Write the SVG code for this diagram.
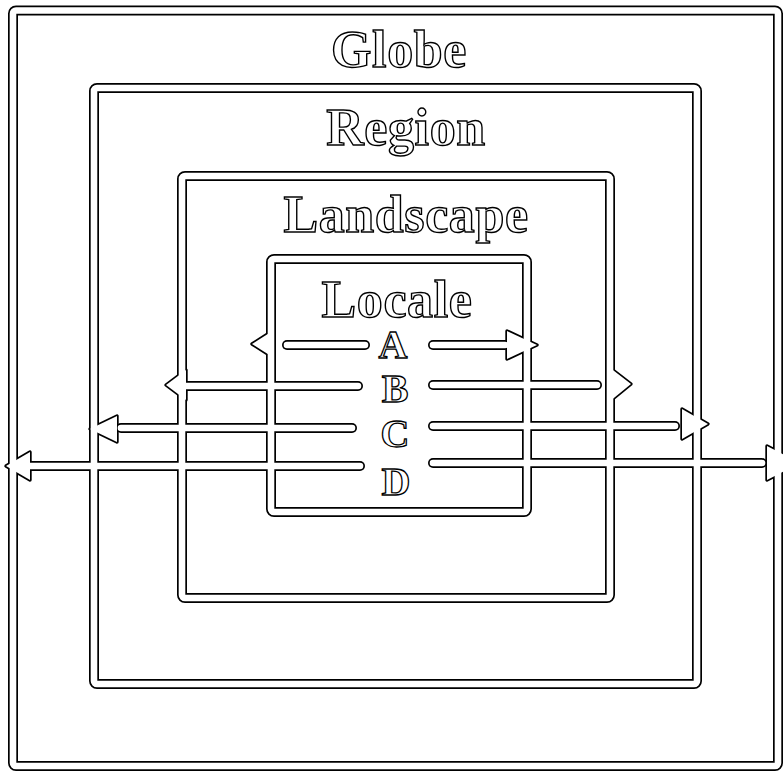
<svg xmlns="http://www.w3.org/2000/svg" xmlns:xlink="http://www.w3.org/1999/xlink" width="783" height="774" viewBox="0 0 783 774">
  <style>
    .case { fill: none; stroke: #000; stroke-width: 10; stroke-linecap: round; stroke-linejoin: round; }
    .core { fill: none; stroke: #fff; stroke-width: 6.6; stroke-linecap: round; stroke-linejoin: round; }
    .head-case { fill: #000; stroke: #000; stroke-width: 3.4; stroke-linejoin: round; }
    .head-core { fill: #fff; stroke: none; }
    .title { font-family: "Liberation Serif", "Times New Roman", serif; font-weight: bold; font-size: 52px; letter-spacing: 0.6px; fill: #fff; stroke: #000; stroke-width: 1.4; text-anchor: middle; }
    .letter { font-family: "Liberation Serif", "Times New Roman", serif; font-weight: bold; font-size: 40px; fill: #fff; stroke: #000; stroke-width: 1.3; text-anchor: middle; }
  </style>
  <defs>
    <!-- scale walls (centre lines of the double-lined bands) -->
    <rect id="w-globe" x="13" y="10.5" width="765" height="755.5" rx="3"/>
    <rect id="w-region" x="94" y="88" width="603" height="596" rx="3"/>
    <rect id="w-landscape" x="182" y="176" width="428" height="422" rx="3"/>
    <rect id="w-locale" x="271" y="259" width="256" height="253" rx="3"/>
    <!-- flow pipes, one per side per level -->
    <path id="p-a-l" d="M365 345 H287"/>
    <path id="p-a-r" d="M433 345 H505"/>
    <path id="p-b-l" d="M358 386 H186"/>
    <path id="p-b-r" d="M433 385 H597"/>
    <path id="p-c-l" d="M352 428 H121"/>
    <path id="p-c-r" d="M433 426 H675"/>
    <path id="p-d-l" d="M360 466 H30"/>
    <path id="p-d-r" d="M433 463 H762"/>
    <!-- arrowheads sitting on the walls -->
    <polygon id="h-a-l" points="252,344 274,330 274,358"/>
    <polygon id="h-a-r" points="507,331 537,345 507,359"/>
    <polygon id="h-b-l" points="166,385 186,370 186,400"/>
    <polygon id="h-b-r" points="609,367 631,384 609,402"/>
    <polygon id="h-c-l" points="90,429 117,416 117,442"/>
    <polygon id="h-c-r" points="682,409 708,424 682,439"/>
    <polygon id="h-d-l" points="6,466 30,452 30,480"/>
    <polygon id="h-d-r" points="767,446 800,463 767,480"/>
  </defs>

  <rect width="783" height="774" fill="#fff"/>

  <!-- black casing under every band so crossings merge -->
  <g id="casing">
    <use xlink:href="#w-globe" class="case"/>
    <use xlink:href="#w-region" class="case"/>
    <use xlink:href="#w-landscape" class="case"/>
    <use xlink:href="#w-locale" class="case"/>
    <use xlink:href="#p-a-l" class="case"/>
    <use xlink:href="#p-a-r" class="case"/>
    <use xlink:href="#p-b-l" class="case"/>
    <use xlink:href="#p-b-r" class="case"/>
    <use xlink:href="#p-c-l" class="case"/>
    <use xlink:href="#p-c-r" class="case"/>
    <use xlink:href="#p-d-l" class="case"/>
    <use xlink:href="#p-d-r" class="case"/>
    <use xlink:href="#h-a-l" class="head-case"/>
    <use xlink:href="#h-a-r" class="head-case"/>
    <use xlink:href="#h-b-l" class="head-case"/>
    <use xlink:href="#h-b-r" class="head-case"/>
    <use xlink:href="#h-c-l" class="head-case"/>
    <use xlink:href="#h-c-r" class="head-case"/>
    <use xlink:href="#h-d-l" class="head-case"/>
    <use xlink:href="#h-d-r" class="head-case"/>
  </g>

  <g id="globe">
    <use xlink:href="#w-globe" class="core"/>
    <text class="title" x="399" y="67">Globe</text>
  </g>
  <g id="region">
    <use xlink:href="#w-region" class="core"/>
    <text class="title" x="406" y="145">Region</text>
  </g>
  <g id="landscape">
    <use xlink:href="#w-landscape" class="core"/>
    <text class="title" x="406" y="232">Landscape</text>
  </g>
  <g id="locale">
    <use xlink:href="#w-locale" class="core"/>
    <text class="title" x="397" y="317">Locale</text>
    <text class="letter" x="393" y="358">A</text>
    <text class="letter" x="395" y="402">B</text>
    <text class="letter" x="395" y="447">C</text>
    <text class="letter" x="396" y="495">D</text>
  </g>

  <g id="connectors">
    <use xlink:href="#p-a-l" class="core"/>
    <use xlink:href="#p-a-r" class="core"/>
    <use xlink:href="#p-b-l" class="core"/>
    <use xlink:href="#p-b-r" class="core"/>
    <use xlink:href="#p-c-l" class="core"/>
    <use xlink:href="#p-c-r" class="core"/>
    <use xlink:href="#p-d-l" class="core"/>
    <use xlink:href="#p-d-r" class="core"/>
    <use xlink:href="#h-a-l" class="head-core"/>
    <use xlink:href="#h-a-r" class="head-core"/>
    <use xlink:href="#h-b-l" class="head-core"/>
    <use xlink:href="#h-b-r" class="head-core"/>
    <use xlink:href="#h-c-l" class="head-core"/>
    <use xlink:href="#h-c-r" class="head-core"/>
    <use xlink:href="#h-d-l" class="head-core"/>
    <use xlink:href="#h-d-r" class="head-core"/>
  </g>
</svg>
